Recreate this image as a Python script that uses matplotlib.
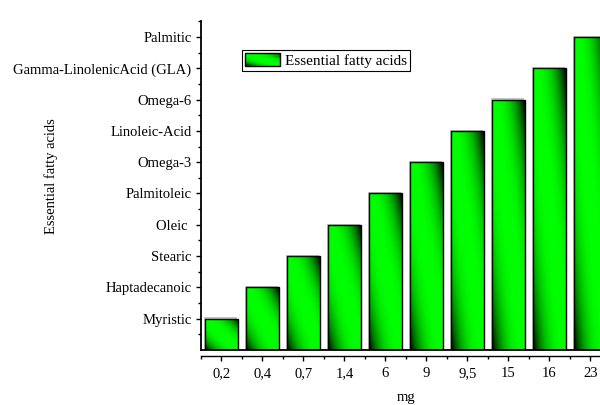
import numpy as np
import matplotlib
matplotlib.use('Agg')
import matplotlib.pyplot as plt
from matplotlib.patches import Rectangle
from matplotlib.legend_handler import HandlerBase
from matplotlib.transforms import ScaledTranslation

# ---- data ----
doses = ["0,2", "0,4", "0,7", "1,4", "6", "9", "9,5", "15", "16", "23"]
acids = ["Myristic", "Haptadecanoic", "Stearic", "Oleic ", "Palmitoleic",
         "Omega-3", "Linoleic-Acid", "Omega-6", "Gamma-LinolenicAcid (GLA)", "Palmitic"]
acid_level = [1, 2, 3, 4, 5, 6, 7, 8, 9, 10]   # category index of the acid for each dose
series_label = "Essential fatty acids"
x_label = "mg"
y_label = "Essential fatty acids"

plt.rcParams['font.family'] = ['Liberation Serif', 'DejaVu Serif']
FS = 10.5

fig = plt.figure(figsize=(6, 4.05), dpi=100)
ax = fig.add_axes([0.335, 0.1358, 0.683, 0.8116])

xpos = np.arange(1, len(doses) + 1)


def shade(u, v):
    t = np.abs(u + v - 1.0)
    return 1.0 - t ** 2.6


def gradient_img(n=80):
    u = np.linspace(0, 1, n)
    U, V = np.meshgrid(u, u)
    img = np.zeros((n, n, 3))
    img[..., 1] = shade(U, V)
    return img


# shadow (light grey, offset up-left)
shadow_tr = ax.transData + ScaledTranslation(-1.0 / 100, 1.2 / 100, fig.dpi_scale_trans)
ax.bar(xpos, acid_level, width=0.8, color='#c4c4c4', edgecolor='none',
       zorder=1, transform=shadow_tr)

bars = ax.bar(xpos, acid_level, width=0.8, facecolor='none', edgecolor='black',
              linewidth=1.0, zorder=3, label=series_label)
img = gradient_img()
for b in bars:
    x0, y0, w, h = b.get_x(), b.get_y(), b.get_width(), b.get_height()
    im = ax.imshow(img, extent=(x0, x0 + w, y0, y0 + h), origin='lower',
                   aspect='auto', interpolation='bilinear', zorder=2)
    im.set_clip_path(b)

ax.axhline(0, color='black', lw=1.3, zorder=4, clip_on=False)

ax.set_xlim(0.5, len(doses) + 0.5)
ax.set_ylim(0, len(acids) + 0.5)

ax.set_xticks(xpos, doses)
ax.set_xticks(np.arange(0.5, len(doses) + 1, 1.0), minor=True)
ax.set_yticks(np.arange(1, len(acids) + 1), acids)
ax.set_yticks(np.arange(0.5, len(acids) + 1, 1.0), minor=True)

for s in ['top', 'right']:
    ax.spines[s].set_visible(False)
ax.spines['left'].set_linewidth(1.3)
ax.spines['bottom'].set_linewidth(1.0)
ax.spines['bottom'].set_position(('outward', 4.3))

ax.tick_params(axis='both', which='major', direction='out', length=3.8, width=1.0,
               labelsize=FS, color='black')
ax.tick_params(axis='both', which='minor', direction='out', length=2.3, width=1.0)
ax.tick_params(axis='y', which='major', pad=3)
ax.tick_params(axis='x', which='major', pad=4)

ax.set_xlabel(x_label, fontsize=FS, labelpad=8)
ax.set_ylabel(y_label, fontsize=FS)
ax.yaxis.set_label_coords(-0.35, 0.53)


class GradHandler(HandlerBase):
    def create_artists(self, legend, orig_handle, xdescent, ydescent, width,
                       height, fontsize, trans):
        arts = []
        nx, ny = 30, 10
        for i in range(nx):
            for j in range(ny):
                u = (i + 0.5) / nx
                v = (j + 0.5) / ny
                g = float(shade(u, v))
                r = Rectangle((-xdescent + i * width / nx, -ydescent + j * height / ny),
                              width / nx * 1.08, height / ny * 1.08,
                              facecolor=(0, g, 0), edgecolor='none', transform=trans)
                arts.append(r)
        arts.append(Rectangle((-xdescent, -ydescent), width, height, facecolor='none',
                              edgecolor='black', lw=1.0, transform=trans))
        return arts


leg = ax.legend(handles=[bars], labels=[series_label], handler_map={bars: GradHandler()},
                loc='upper left', bbox_to_anchor=(0.1, 0.913), borderaxespad=0,
                fancybox=False, edgecolor='black', framealpha=1, fontsize=11,
                borderpad=0.2, handlelength=2.3, handleheight=0.9, handletextpad=0.3)
leg.get_frame().set_linewidth(0.8)

fig.savefig('out.png', dpi=100)
